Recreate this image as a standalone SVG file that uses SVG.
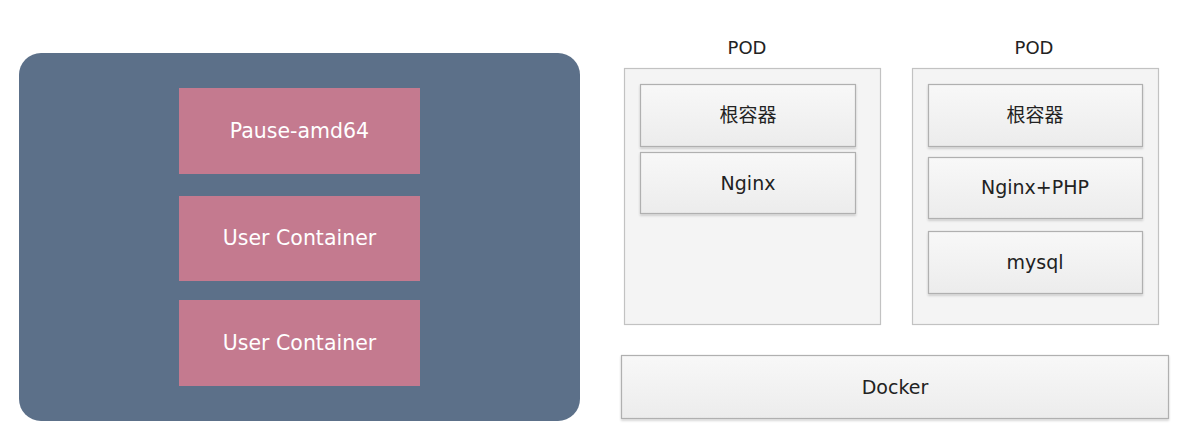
<svg xmlns="http://www.w3.org/2000/svg" width="1200" height="439" viewBox="0 0 1200 439">
<defs>
<linearGradient id="g" x1="0" y1="0" x2="0" y2="1">
<stop offset="0" stop-color="#f8f8f8"/><stop offset="1" stop-color="#ececec"/>
</linearGradient>
<filter id="sh" x="-5%" y="-5%" width="110%" height="120%">
<feDropShadow dx="0" dy="1.5" stdDeviation="1" flood-color="#000" flood-opacity="0.2"/>
</filter>
</defs>
<style>
.host{fill:#5c7089}
.pink{fill:#c47a8f}
.wt{fill:#fff;font-family:"DejaVu Sans","Noto Sans",sans-serif;font-size:20.5px;text-anchor:middle}
.pod{fill:#f4f4f4;stroke:#c2c2c2;stroke-width:1.2}
.box{fill:url(#g);stroke:#b0b0b0;stroke-width:1.2;filter:url(#sh)}
.dt{fill:#222;font-family:"DejaVu Sans","Noto Sans CJK SC",sans-serif;font-size:19px;text-anchor:middle}
.lbl{fill:#222;font-family:"DejaVu Sans","Noto Sans",sans-serif;font-size:18px;text-anchor:middle}
</style>
<rect width="1200" height="439" fill="#fff"/>
<g id="host">
<rect class="host" x="19" y="53" width="561" height="368" rx="22"/>
</g>
<g id="pause"><rect class="pink" x="179" y="88" width="241" height="86"/><text class="wt" x="299.5" y="138">Pause-amd64</text></g>
<g id="user1"><rect class="pink" x="179" y="196" width="241" height="85"/><text class="wt" x="299.5" y="245">User Container</text></g>
<g id="user2"><rect class="pink" x="179" y="300" width="241" height="86"/><text class="wt" x="299.5" y="350">User Container</text></g>
<g id="pod1">
<text class="lbl" x="747" y="54">POD</text>
<rect class="pod" x="624.5" y="68.5" width="256" height="256"/>
</g>
<g id="pod1-root"><rect class="box" x="640.5" y="84.5" width="215" height="62"/><text class="dt" x="748" y="122">根容器</text></g>
<g id="pod1-nginx"><rect class="box" x="640.5" y="152.5" width="215" height="61"/><text class="dt" x="748" y="190">Nginx</text></g>
<g id="pod2">
<text class="lbl" x="1034" y="54">POD</text>
<rect class="pod" x="912.5" y="68.5" width="246" height="256"/>
</g>
<g id="pod2-root"><rect class="box" x="928.5" y="84.5" width="214" height="62"/><text class="dt" x="1035" y="122">根容器</text></g>
<g id="pod2-nginxphp"><rect class="box" x="928.5" y="157.5" width="214" height="61"/><text class="dt" x="1035" y="194">Nginx+PHP</text></g>
<g id="pod2-mysql"><rect class="box" x="928.5" y="231.5" width="214" height="62"/><text class="dt" x="1035" y="269">mysql</text></g>
<g id="docker"><rect class="box" x="621.5" y="355.5" width="547" height="63"/><text class="dt" x="895" y="394">Docker</text></g>
<g id="connectors"></g>
</svg>
